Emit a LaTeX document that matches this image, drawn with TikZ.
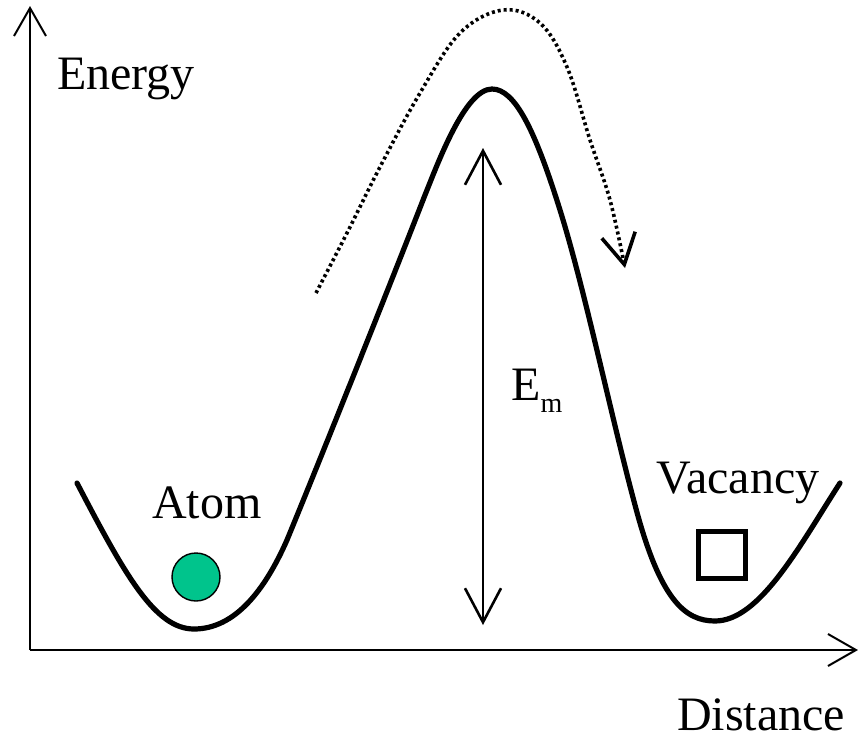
\documentclass[tikz,border=0pt]{standalone}
\usepackage{fontspec}
\setmainfont{Liberation Serif}
\usetikzlibrary{arrows.meta}
\definecolor{atomfill}{HTML}{00C48C}
\definecolor{ink}{HTML}{000000}

\begin{document}
\begin{tikzpicture}[x=0.5pt,y=-0.5pt,font=\fontsize{24}{28}\selectfont,
  axis/.style={-{Straight Barb[length=14pt,width=16pt]},line width=1pt,ink},
  well/.style={line width=2.6pt,ink,line join=round,line cap=round},
  barrier/.style={{Straight Barb[length=17pt,width=18pt]}-{Straight Barb[length=17pt,width=18pt]},line width=1.3pt,ink},
  hop/.style={-{Straight Barb[length=15pt,width=17pt]},line width=1.8pt,ink,dash pattern=on 1.5pt off 1.5pt},
  lbl/.style={anchor=base,inner sep=0pt,text=ink}]
  \useasboundingbox (0,0) rectangle (858,740);

  % ===== axes =====
  \coordinate (origin) at (30,650);
  \coordinate (ytop) at (30,6);
  \coordinate (xend) at (858,650);
  \draw[axis] (origin) -- (ytop);
  \draw[axis] (origin) -- (xend);
  \node[lbl] (energy) at (126,89) {Energy};
  \node[lbl] (distance) at (761,730) {Distance};

  % ===== potential energy curve =====
  \draw[well] (77,483) .. controls (125,575) and (155,629) .. (194,629)
    .. controls (235,629) and (265,590) .. (287,540)
    .. controls (320,460) and (390,285) .. (425,195)
    .. controls (438,163) and (465,89) .. (492,89)
    .. controls (515,89) and (535,130) .. (560,210)
    .. controls (585,290) and (612,420) .. (635,505)
    .. controls (660,600) and (685,621) .. (715,621)
    .. controls (760,621) and (800,545) .. (840,483);

  % ===== migration barrier =====
  \coordinate (emtop) at (483,148);
  \coordinate (embot) at (483,625);
  \draw[barrier] (embot) -- (emtop);
  \node[lbl,anchor=base west] (em) at (511,400) {E\raisebox{-6pt}{\fontsize{14}{14}\selectfont m}};

  % ===== jump path =====
  \coordinate (hopfrom) at (316,293);
  \coordinate (hopto) at (625,268);
  \draw[hop] plot[smooth,tension=0.6] coordinates {
    (hopfrom) (347,233) (380,167) (420,93) (460,33) (503,10) (540,23)
    (567,67) (590,140) (610,200) (hopto)};

  % ===== atom and vacancy =====
  \node[circle,draw=ink,line width=0.7pt,fill=atomfill,minimum size=24pt,inner sep=0pt] (atom) at (196,577) {};
  \node[lbl] (atomlbl) at (207,518) {Atom};
  \node[draw=ink,line width=2.5pt,minimum size=23.5pt,inner sep=0pt] (vac) at (722,555) {};
  \node[lbl] (vaclbl) at (738,493) {Vacancy};
\end{tikzpicture}
\end{document}
